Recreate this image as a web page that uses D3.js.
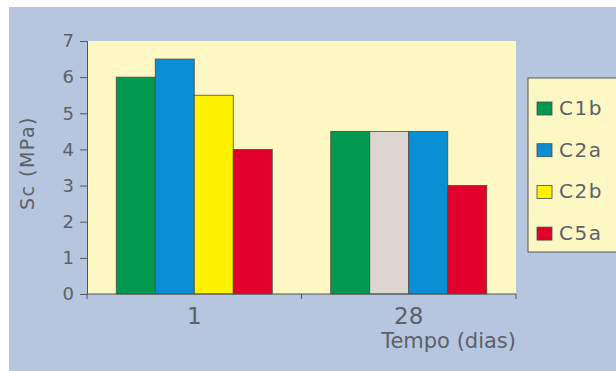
<!DOCTYPE html>
<html><head><meta charset="utf-8">
<script src="https://cdn.jsdelivr.net/npm/d3@7"></script>
<style>body{margin:0;background:#fff;}svg{display:block;}</style>
</head><body>
<script>
const categories = ["1", "28"];
const seriesNames = ["C1b", "C2a", "C2b", "C5a"];
const seriesColors = ["#00994f", "#0a8fd4", "#fff200", "#e0002b"];
const valuesDay1 = [6, 6.5, 5.5, 4];
const valuesDay28 = [4.5, 4.5, 4.5, 3];
const barColorsDay1 = ["#00994f", "#0a8fd4", "#fff200", "#e0002b"];
const barColorsDay28 = ["#00994f", "#dcd5d2", "#0a8fd4", "#e0002b"];
const yTicks = [0, 1, 2, 3, 4, 5, 6, 7];

const groups = [
  {cat: categories[0], values: valuesDay1, colors: barColorsDay1},
  {cat: categories[1], values: valuesDay28, colors: barColorsDay28}
];

const W = 616, H = 371;
const svg = d3.select("body").append("svg").attr("width", W).attr("height", H);
svg.append("rect").attr("width", W).attr("height", H).attr("fill", "#ffffff");
svg.append("rect").attr("x", 9).attr("y", 7).attr("width", W - 9).attr("height", H - 7).attr("fill", "#b6c6de");

const L = 87, R = 516, T = 41, B = 294;
const x = d3.scaleBand().domain(categories).range([L, R]);
const xi = d3.scaleBand().domain(d3.range(4)).range([0, x.bandwidth()]).paddingOuter(0.75).paddingInner(0);
const y = d3.scaleLinear().domain([0, 7]).range([B, T]);

svg.append("rect").attr("x", L).attr("y", T).attr("width", R - L).attr("height", B - T).attr("fill", "#fdf7c4");

const g = svg.selectAll("g.grp").data(groups).enter().append("g")
  .attr("transform", d => `translate(${x(d.cat)},0)`);
g.selectAll("rect").data(d => d.values.map((v, i) => ({v, c: d.colors[i], i})))
  .enter().append("rect")
  .attr("x", d => xi(d.i)).attr("width", xi.bandwidth())
  .attr("y", d => y(d.v)).attr("height", d => y(0) - y(d.v))
  .attr("fill", d => d.c).attr("stroke", "#4a4a4a").attr("stroke-width", 0.8);

const textColor = "#5d6169";
const font = "'DejaVu Sans', sans-serif";

// y axis
const yAxis = svg.append("g").attr("transform", `translate(${L},0)`)
  .call(d3.axisLeft(y).tickValues(yTicks).tickSize(7).tickPadding(6).tickFormat(d3.format("d")));
yAxis.select(".domain").attr("stroke", "#555");
yAxis.selectAll(".tick line").attr("stroke", "#555");
yAxis.selectAll("text").attr("fill", textColor).style("font-family", font).style("font-size", "18px");

// x axis
const xAxis = svg.append("g").attr("transform", `translate(0,${B})`)
  .call(d3.axisBottom(x).tickSize(0).tickPadding(14));
xAxis.select(".domain").attr("stroke", "#555").attr("d", `M${L},0H${R}`);
xAxis.selectAll("text").attr("fill", textColor).style("font-family", font).style("font-size", "23px");
const sep = [L, L + x.bandwidth(), R];
svg.selectAll("line.xt").data(sep).enter().append("line")
  .attr("x1", d => d).attr("x2", d => d).attr("y1", B).attr("y2", B + 5)
  .attr("stroke", "#555");

svg.append("text").attr("x", R).attr("y", 348).attr("text-anchor", "end")
  .attr("fill", textColor).style("font-family", font).style("font-size", "21px").text("Tempo (dias)");
svg.append("text").attr("transform", "translate(34,163) rotate(-90)").attr("text-anchor", "middle")
  .attr("fill", textColor).style("font-family", font).style("font-size", "19px")
  .style("letter-spacing", "1.5px").text("Sc (MPa)");

// legend
const lg = svg.append("g");
lg.append("rect").attr("x", 528).attr("y", 78).attr("width", 100).attr("height", 174)
  .attr("fill", "#fdf7c4").attr("stroke", "#555").attr("stroke-width", 1);
const li = lg.selectAll("g.li").data(seriesNames).enter().append("g")
  .attr("transform", (d, i) => `translate(537,${108 + i * 41.7})`);
li.append("rect").attr("x", 0).attr("y", -6).attr("width", 15).attr("height", 13)
  .attr("fill", (d, i) => seriesColors[i]).attr("stroke", "#4a4a4a").attr("stroke-width", 0.8);
li.append("text").attr("x", 22).attr("y", 7).attr("fill", textColor)
  .style("font-family", font).style("font-size", "20px").style("letter-spacing", "1.5px").text(d => d);
</script>
</body></html>
